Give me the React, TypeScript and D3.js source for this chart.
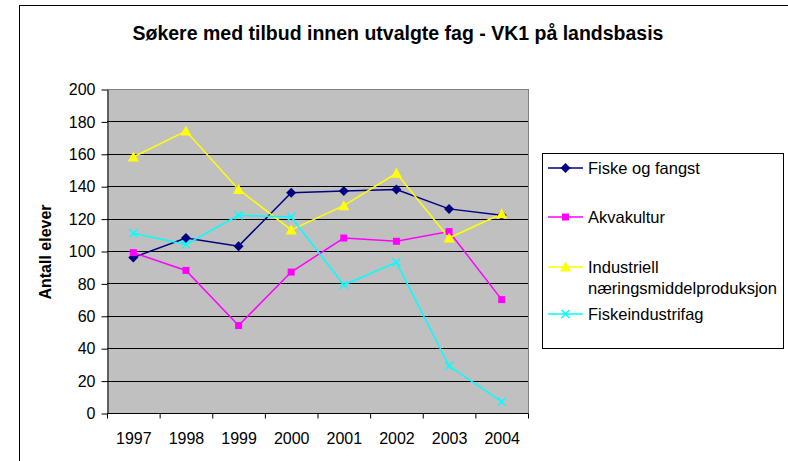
import { useEffect, useRef } from "react";
import * as d3 from "d3";

const years = ["1997", "1998", "1999", "2000", "2001", "2002", "2003", "2004"];
const fiskeOgFangst = [96, 108, 103, 136, 137, 138, 126, 122];
const akvakultur = [99, 88, 54, 87, 108, 106, 112, 70];
const industriell = [158, 174, 138, 113, 128, 148, 108, 123];
const fiskeindustrifag = [111, 104, 122, 121, 79, 93, 29, 7];
const yTicks = [0, 20, 40, 60, 80, 100, 120, 140, 160, 180, 200];

const series = [
  { name: ["Fiske og fangst"], values: fiskeOgFangst, color: "#000080", marker: "diamond" },
  { name: ["Akvakultur"], values: akvakultur, color: "#FF00FF", marker: "square" },
  { name: ["Industriell", "næringsmiddelproduksjon"], values: industriell, color: "#FFFF00", marker: "triangle" },
  { name: ["Fiskeindustrifag"], values: fiskeindustrifag, color: "#00FFFF", marker: "x" },
];

function drawMarker(g: any, type: string, cx: number, cy: number, color: string) {
  if (type === "diamond") {
    g.append("path")
      .attr("d", `M${cx},${cy - 5}L${cx + 5},${cy}L${cx},${cy + 5}L${cx - 5},${cy}Z`)
      .attr("fill", color);
  } else if (type === "square") {
    g.append("rect")
      .attr("x", cx - 3.5).attr("y", cy - 3.5)
      .attr("width", 7).attr("height", 7)
      .attr("fill", color);
  } else if (type === "triangle") {
    g.append("path")
      .attr("d", `M${cx},${cy - 5.5}L${cx + 5.5},${cy + 4.5}L${cx - 5.5},${cy + 4.5}Z`)
      .attr("fill", color);
  } else {
    g.append("path")
      .attr("d", `M${cx - 4},${cy - 4}L${cx + 4},${cy + 4}M${cx + 4},${cy - 4}L${cx - 4},${cy + 4}`)
      .attr("stroke", color)
      .attr("stroke-width", 1.5);
  }
}

export default function App() {
  const ref = useRef<SVGSVGElement>(null);

  useEffect(() => {
    const svg = d3.select(ref.current);
    svg.selectAll("*").remove();
    const font = "'Liberation Sans', Arial, sans-serif";

    svg.append("rect").attr("width", 788).attr("height", 461).attr("fill", "#fff");
    // outer chart border
    svg.append("rect")
      .attr("x", 19.5).attr("y", 5.5)
      .attr("width", 800).attr("height", 500)
      .attr("fill", "none").attr("stroke", "#000").attr("stroke-width", 1);

    svg.append("text")
      .attr("x", 398).attr("y", 40)
      .attr("text-anchor", "middle")
      .attr("font-family", font).attr("font-weight", "bold").attr("font-size", 19.5)
      .text("Søkere med tilbud innen utvalgte fag - VK1 på landsbasis");

    const left = 107, right = 528, top = 89, bottom = 413;
    const x = d3.scaleBand().domain(years).range([left, right]);
    const y = d3.scaleLinear().domain([0, 200]).range([bottom, top]);

    svg.append("rect")
      .attr("x", left).attr("y", top)
      .attr("width", right - left).attr("height", bottom - top)
      .attr("fill", "#C0C0C0");

    // gridlines
    yTicks.slice(1).forEach(t => {
      svg.append("line")
        .attr("x1", left).attr("x2", right)
        .attr("y1", Math.round(y(t)) + 0.5).attr("y2", Math.round(y(t)) + 0.5)
        .attr("stroke", t === 200 ? "#808080" : "#000").attr("stroke-width", 1);
    });
    // right border of plot
    svg.append("line")
      .attr("x1", right + 0.5).attr("x2", right + 0.5)
      .attr("y1", top).attr("y2", bottom)
      .attr("stroke", "#808080");

    // y axis
    const yAxis = svg.append("g")
      .attr("transform", `translate(${left + 0.5},0.5)`)
      .call(d3.axisLeft(y).tickValues(yTicks).tickSize(6).tickPadding(6).tickSizeOuter(0));
    yAxis.selectAll("text").attr("font-family", font).attr("font-size", 16).attr("fill", "#000");
    yAxis.selectAll("line, path").attr("stroke", "#000");

    // x axis
    const xAxis = svg.append("g").attr("transform", `translate(0.5,${bottom + 0.5})`);
    xAxis.append("line").attr("x1", left).attr("x2", right).attr("stroke", "#000");
    [...years.map(d => x(d) as number), right].forEach(px => {
      xAxis.append("line").attr("x1", px).attr("x2", px).attr("y1", 0).attr("y2", 5).attr("stroke", "#000");
    });
    years.forEach(d => {
      xAxis.append("text")
        .attr("x", (x(d) as number) + x.bandwidth() / 2).attr("y", 30)
        .attr("text-anchor", "middle")
        .attr("font-family", font).attr("font-size", 16)
        .text(d);
    });

    svg.append("text")
      .attr("transform", "translate(51,252) rotate(-90)")
      .attr("text-anchor", "middle")
      .attr("font-family", font).attr("font-weight", "bold").attr("font-size", 16)
      .text("Antall elever");

    const cx = (d: string) => (x(d) as number) + x.bandwidth() / 2;
    series.forEach(s => {
      const line = d3.line<number>().x((_, i) => cx(years[i])).y(v => y(v));
      svg.append("path")
        .attr("d", line(s.values))
        .attr("fill", "none").attr("stroke", s.color).attr("stroke-width", 1.5);
    });
    series.forEach(s => {
      const g = svg.append("g");
      s.values.forEach((v, i) => drawMarker(g, s.marker, cx(years[i]), y(v), s.color));
    });

    // legend
    const lg = svg.append("g");
    lg.append("rect")
      .attr("x", 542.5).attr("y", 153.5).attr("width", 241).attr("height", 195)
      .attr("fill", "#fff").attr("stroke", "#000");
    const rows = [168, 217, 267, 314];
    series.forEach((s, i) => {
      const ry = rows[i];
      lg.append("line").attr("x1", 548).attr("x2", 583).attr("y1", ry).attr("y2", ry)
        .attr("stroke", s.color).attr("stroke-width", 1.5);
      drawMarker(lg, s.marker, 565.5, ry, s.color);
      s.name.forEach((n, j) => {
        lg.append("text")
          .attr("x", 588).attr("y", ry + 6 + j * 21)
          .attr("font-family", font).attr("font-size", 16.5)
          .text(n);
      });
    });
  }, []);

  return <svg ref={ref} width={788} height={461} style={{ position: "absolute", left: 0, top: 0 }} />;
}
